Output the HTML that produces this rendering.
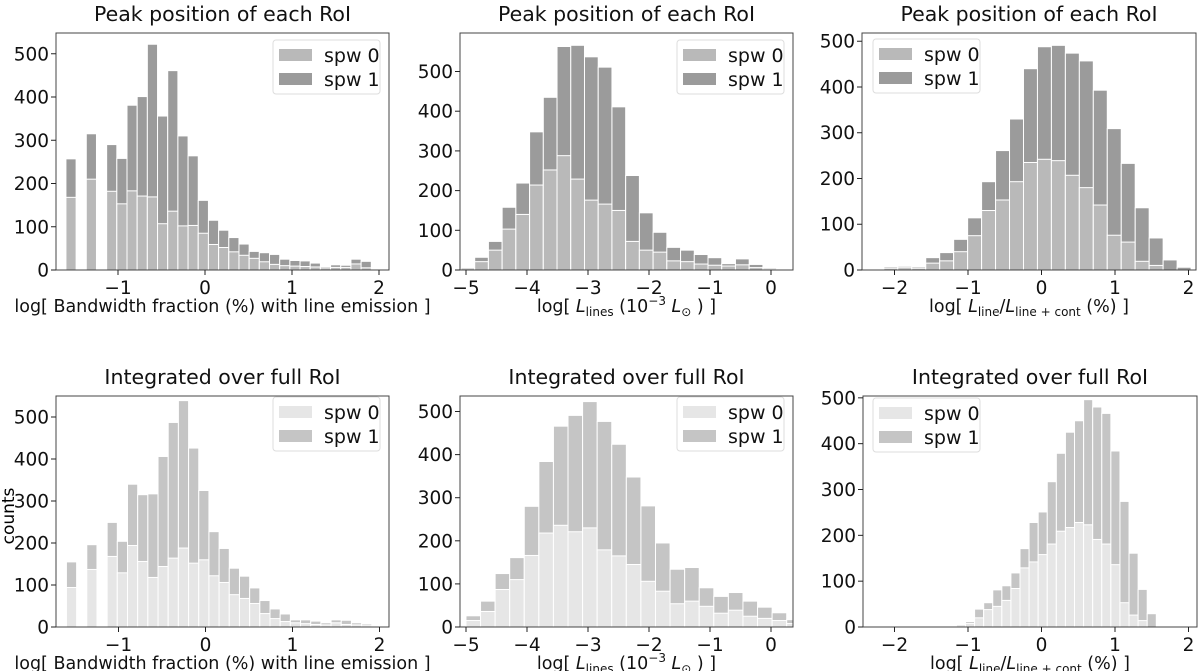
<!DOCTYPE html>
<html><head><meta charset="utf-8"><style>
html,body{margin:0;padding:0;background:#fff;}
svg{display:block;font-family:"DejaVu Sans","Liberation Sans",sans-serif;}
</style></head><body>
<svg id="fig" width="1200" height="671" viewBox="0 0 1200 671" xmlns="http://www.w3.org/2000/svg">
<text x="9" y="516" font-size="17" transform="rotate(-90 9 516)" text-anchor="middle" dominant-baseline="middle">counts</text>
</svg>
<script>
// ---- Data ----
const p1Start = -1.54, p1Width = 0.117;
const p1TopSpw0  = [168,0,210,0,182,153,183,171,169,107,136,102,103,85,59,52,42,34,27,19,13,10,9,8,7,5,6,6,14,5];
const p1TopTotal = [257,0,315,0,290,258,381,401,522,356,461,310,264,161,115,92,75,60,43,40,36,25,22,21,16,8,12,11,25,20];
const p1BotSpw0  = [94,0,137,0,168,129,194,156,118,144,164,188,152,160,122,106,77,68,56,32,20,13,10,8,6,5,10,6,5,3];
const p1BotTotal = [155,0,196,0,249,204,340,315,317,406,487,539,426,325,227,187,140,121,93,63,43,31,17,17,14,10,17,16,10,7];

const p2TopStart = -4.97, p2TopWidth = 0.225;
const p2TopSpw0  = [5,21,50,103,140,214,252,288,229,176,166,150,72,50,45,23,21,15,12,10,13,6,3,2];
const p2TopTotal = [7,32,72,158,219,348,435,563,566,537,511,411,238,144,95,57,50,39,31,16,28,14,6,3];
const p2BotStart = -5.12, p2BotWidth = 0.239;
const p2BotSpw0  = [3,15,36,87,110,166,218,236,221,230,179,165,145,106,83,54,60,48,32,39,25,20,15,8];
const p2BotTotal = [5,26,60,124,161,280,384,466,491,523,477,424,348,281,195,134,138,91,71,80,60,46,33,17];

const p3TopStart = -2.24, p3TopWidth = 0.19;
const p3TopSpw0  = [2,4,5,4,15,20,40,75,130,153,193,235,242,239,207,180,142,76,61,19,10,0,0];
const p3TopTotal = [3,7,8,7,27,38,67,114,193,261,330,440,488,491,474,457,393,309,233,136,70,22,6];
const p3BotStart = -1.59, p3BotWidth = 0.1236;
const p3BotSpw0  = [1,0,2,0,5,8,20,38,45,58,84,129,142,158,181,209,217,228,223,191,181,136,53,26,14,0];
const p3BotTotal = [2,0,3,0,6,12,39,53,81,90,118,171,228,251,317,379,425,450,496,480,466,384,274,161,82,29];

const yTicks = [0,100,200,300,400,500];
const p1XTicks = [-1,0,1,2];
const p2XTicks = [-5,-4,-3,-2,-1,0];
const p3XTicks = [-2,-1,0,1,2];
const legendLabels = ["spw 0","spw 1"];
const topTitle = "Peak position of each RoI";
const botTitle = "Integrated over full RoI";

// ---- Layout ----
const NS = "http://www.w3.org/2000/svg";
const svg = document.getElementById('fig');
function mk(tag, attrs, parent){ const e=document.createElementNS(NS,tag); for(const k in attrs) e.setAttribute(k,attrs[k]); (parent||svg).appendChild(e); return e; }

const topColors = ["#b9b9b9","#9b9b9b"];
const botColors = ["#e6e6e6","#c5c5c5"];

const panels = [
 {name:'peak-bandwidth', L:56,R:389,T:33,B:270, x0:205,xu:87, ymax:548, start:p1Start,width:p1Width, s0:p1TopSpw0,tot:p1TopTotal, xt:p1XTicks, col:topColors, title:topTitle, leg:[273,40], lab:'bw'},
 {name:'peak-lines', L:460,R:793,T:33,B:270, x0:771,xu:61, ymax:597, start:p2TopStart,width:p2TopWidth, s0:p2TopSpw0,tot:p2TopTotal, xt:p2XTicks, col:topColors, title:topTitle, leg:[677,40], lab:'lum'},
 {name:'peak-ratio', L:862,R:1196,T:33,B:270, x0:1041.5,xu:73.5, ymax:518, start:p3TopStart,width:p3TopWidth, s0:p3TopSpw0,tot:p3TopTotal, xt:p3XTicks, col:topColors, title:topTitle, leg:[873,39], lab:'ratio'},
 {name:'int-bandwidth', L:56,R:389,T:396,B:627, x0:205.5,xu:87, ymax:550, start:p1Start,width:p1Width, s0:p1BotSpw0,tot:p1BotTotal, xt:p1XTicks, col:botColors, title:botTitle, leg:[273,397], lab:'bw'},
 {name:'int-lines', L:460,R:793,T:396,B:627, x0:771,xu:61, ymax:536, start:p2BotStart,width:p2BotWidth, s0:p2BotSpw0,tot:p2BotTotal, xt:p2XTicks, col:botColors, title:botTitle, leg:[677,397], lab:'lum'},
 {name:'int-ratio', L:863,R:1197,T:396,B:627, x0:1041.5,xu:73.5, ymax:504, start:p3BotStart,width:p3BotWidth, s0:p3BotSpw0,tot:p3BotTotal, xt:p3XTicks, col:botColors, title:botTitle, leg:[873,398], lab:'ratio'}
];

panels.forEach((p,pi)=>{
  const g = mk('g',{});
  
  
  const xs = v => p.x0 + v*p.xu;
  const ys = v => p.B - v*(p.B-p.T)/p.ymax;
  const clipId='clip'+pi;
  const cp=mk('clipPath',{id:clipId},g); mk('rect',{x:p.L,y:p.T,width:p.R-p.L,height:p.B-p.T},cp);
  const bars = mk('g',{'clip-path':'url(#'+clipId+')'},g);
  p.tot.forEach((t,i)=>{
    const c = p.start + i*p.width;
    const xl = xs(c-p.width/2), xr = xs(c+p.width/2);
    if(t>0){
      const r1 = mk('rect',{x:xl,y:ys(t),width:xr-xl,height:ys(0)-ys(t),fill:p.col[1],stroke:'#fff','stroke-width':1},bars);
      
      
    }
    if(p.s0[i]>0){
      const r0 = mk('rect',{x:xl,y:ys(p.s0[i]),width:xr-xl,height:ys(0)-ys(p.s0[i]),fill:p.col[0],stroke:'#fff','stroke-width':1},bars);
      
      
    }
  });
  const fr = mk('rect',{x:p.L,y:p.T,width:p.R-p.L,height:p.B-p.T,fill:'none',stroke:'#444','stroke-width':1},g);
  
  
  yTicks.forEach(v=>{
    if(v>p.ymax) return;
    const y=ys(v);
    mk('line',{x1:p.L-5,x2:p.L,y1:y,y2:y,stroke:'#222'},g);
    const t=mk('text',{x:p.L-7,y:y+6.5,'font-size':18.5,'text-anchor':'end',fill:'#111'},g);
    t.textContent=v;
    
    
  });
  p.xt.forEach(v=>{
    const x=xs(v);
    mk('line',{x1:x,x2:x,y1:p.B,y2:p.B+5,stroke:'#222'},g);
    const t=mk('text',{x:x,y:p.B+24,'font-size':18.5,'text-anchor':'middle',fill:'#111'},g);
    t.textContent=(v<0?'\u2212'+(-v):''+v);
    
    
  });
  const cx=(p.L+p.R)/2;
  const tt=mk('text',{x:cx,y:p.T-12,'font-size':20.5,'text-anchor':'middle',fill:'#111'},g);
  tt.textContent=p.title;
  
  
  const xl=mk('text',{x:cx,y:p.B+42,'font-size':17.5,'text-anchor':'middle',fill:'#111'},g);
  
  
  if(p.lab==='bw'){ xl.textContent='log[ Bandwidth fraction (%) with line emission ]'; }
  else if(p.lab==='lum'){
    xl.innerHTML='log[ <tspan font-style="italic">L</tspan><tspan font-size="12" dy="4">lines</tspan><tspan dy="-4"> (10</tspan><tspan font-size="12" dy="-7">\u22123</tspan><tspan dy="7"> </tspan><tspan font-style="italic">L</tspan><tspan font-size="12" dy="4">\u2299</tspan><tspan dy="-4"> ) ]</tspan>';
  } else {
    xl.innerHTML='log[ <tspan font-style="italic">L</tspan><tspan font-size="12" dy="4">line</tspan><tspan dy="-4">/</tspan><tspan font-style="italic">L</tspan><tspan font-size="12" dy="4">line + cont</tspan><tspan dy="-4"> (%) ]</tspan>';
  }
  // legend
  const lg=mk('g',{},g);
  
  
  mk('rect',{x:p.leg[0],y:p.leg[1],width:107,height:54,rx:3,fill:'#fff','fill-opacity':0.85,stroke:'#ddd'},lg);
  legendLabels.forEach((lab,i)=>{
    const yy=p.leg[1]+9+i*24;
    mk('rect',{x:p.leg[0]+6,y:yy,width:33,height:12,fill:p.col[i]},lg);
    const t=mk('text',{x:p.leg[0]+51,y:yy+13,'font-size':19,fill:'#111'},lg);
    t.textContent=lab;
    
    
  });
});
</script>
</body></html>
